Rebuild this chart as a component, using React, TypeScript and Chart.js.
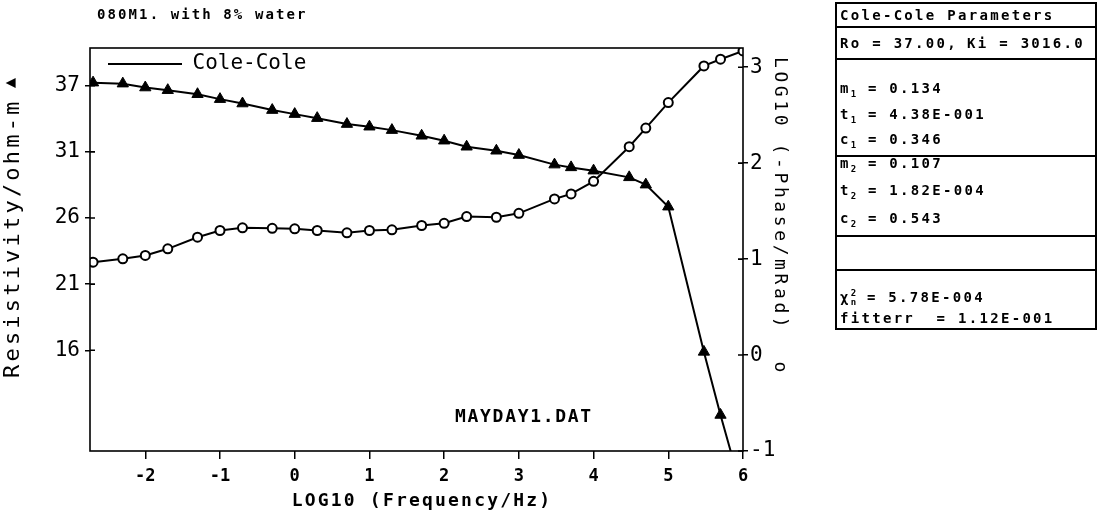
import React, { useEffect, useRef } from 'react';
import { Chart, registerables } from 'chart.js';

Chart.register(...registerables);

// ---------- data ----------
const LOG_FREQ = [
  -2.699, -2.301, -2, -1.699, -1.301, -1, -0.699, -0.301, 0, 0.301, 0.699, 1, 1.301, 1.699,
  2, 2.301, 2.699, 3, 3.477, 3.699, 4, 4.477, 4.699, 5, 5.477, 5.699, 6,
];
const RESISTIVITY = [
  37.25, 37.17, 36.86, 36.65, 36.33, 35.94, 35.59, 35.07, 34.75, 34.43, 33.96, 33.75, 33.48, 33.03,
  32.64, 32.16, 31.84, 31.5, 30.74, 30.52, 30.26, 29.73, 29.15, 27.4, 15.87, 10.86, 4.5,
];
const LOG_PHASE = [
  0.968, 1.003, 1.038, 1.107, 1.228, 1.298, 1.326, 1.321, 1.315, 1.298, 1.274, 1.298, 1.305, 1.35,
  1.373, 1.443, 1.436, 1.477, 1.627, 1.679, 1.81, 2.171, 2.365, 2.631, 3.013, 3.083, 3.169,
];

const X_TICKS = [-2, -1, 0, 1, 2, 3, 4, 5, 6];
const RES_TICKS = [16, 21.25, 26.5, 31.75, 37];
const RES_TICK_LABELS = ['16', '21', '26', '31', '37'];
const PHASE_TICKS = [-1, 0, 1, 2, 3];

const CHART_TITLE = '080M1. with 8% water';
const X_TITLE = 'LOG10 (Frequency/Hz)';
const Y_TITLE = 'Resistivity/ohm-m';
const Y2_TITLE = 'LOG10 (-Phase/mRad)';
const FILE_LABEL = 'MAYDAY1.DAT';
const LEGEND_LABEL = 'Cole-Cole';

// ---------- layout ----------
const W = 1103;
const H = 512;
const PLOT_LEFT = 90;
const PLOT_RIGHT = 743;
const PLOT_TOP = 48;
const PLOT_BOTTOM = 451;
const MONO = "'DejaVu Sans Mono', 'Liberation Mono', monospace";

function drawText(
  ctx: CanvasRenderingContext2D,
  str: string,
  x: number,
  y: number,
  font: string,
  spacing: number,
  align: CanvasTextAlign,
  baseline: CanvasTextBaseline,
  rotation = 0,
) {
  ctx.save();
  ctx.translate(x, y);
  if (rotation) ctx.rotate(rotation);
  ctx.font = font;
  (ctx as any).letterSpacing = `${spacing}px`;
  ctx.textAlign = align;
  ctx.textBaseline = baseline;
  ctx.fillStyle = '#000';
  ctx.fillText(str, 0, 0);
  ctx.restore();
}

const decorPlugin = {
  id: 'decor',
  beforeDraw(chart: any) {
    const lg = chart.legend;
    if (lg) {
      lg.left = PLOT_LEFT;
      lg.right = PLOT_RIGHT;
      lg.top = PLOT_TOP - 12.5;
      lg.bottom = PLOT_BOTTOM;
    }
  },
  afterDraw(chart: any) {
    const { ctx, chartArea: a } = chart;
    ctx.save();
    ctx.strokeStyle = '#000';
    ctx.lineWidth = 1.6;
    ctx.strokeRect(a.left, a.top, a.right - a.left, a.bottom - a.top);
    const yl = chart.scales.y;
    const yr = chart.scales.y2;
    ctx.beginPath();
    yl.ticks.forEach((t: any) => {
      const p = yl.getPixelForValue(t.value);
      ctx.moveTo(a.left, p);
      ctx.lineTo(a.left + 5, p);
    });
    yr.ticks.forEach((t: any) => {
      const p = yr.getPixelForValue(t.value);
      ctx.moveTo(a.right - 5, p);
      ctx.lineTo(a.right, p);
    });
    ctx.stroke();
    ctx.restore();

    drawText(ctx, CHART_TITLE, 97, 15, `bold 14px ${MONO}`, 2.1, 'left', 'middle');
    drawText(ctx, X_TITLE, 422, 501.5, `bold 18px ${MONO}`, 2.2, 'center', 'middle');
    drawText(ctx, Y_TITLE, 19, 378, `22px ${MONO}`, 3.2, 'left', 'alphabetic', -Math.PI / 2);
    drawText(ctx, '\u25B2', 11, 83, `13px 'DejaVu Sans'`, 0, 'center', 'middle', -Math.PI / 2);
    drawText(ctx, Y2_TITLE, 775, 57, `18px ${MONO}`, 3.6, 'left', 'alphabetic', Math.PI / 2);
    drawText(ctx, 'o', 780, 367, `18px ${MONO}`, 0, 'center', 'middle', Math.PI / 2);
    drawText(ctx, FILE_LABEL, 455, 417, `bold 18px ${MONO}`, 1.7, 'left', 'middle');
  },
};

const boxText: React.CSSProperties = {
  position: 'absolute',
  left: 840,
  fontFamily: MONO,
  fontWeight: 'bold',
  fontSize: 14,
  letterSpacing: '2.3px',
  lineHeight: '16px',
  color: '#000',
  whiteSpace: 'pre',
};

const sub: React.CSSProperties = { fontSize: 9, position: 'relative', top: 4, letterSpacing: '1px' };

function Line({ y, x = 840, children }: { y: number; x?: number; children: React.ReactNode }) {
  return <div style={{ ...boxText, top: y - 8, left: x }}>{children}</div>;
}

function Sep({ y }: { y: number }) {
  return <div style={{ position: 'absolute', left: 835, top: y - 1, width: 262, height: 2, background: '#000' }} />;
}

export default function App() {
  const canvasRef = useRef<HTMLCanvasElement | null>(null);

  useEffect(() => {
    const canvas = canvasRef.current;
    if (!canvas) return;
    const lastIdx = LOG_FREQ.length - 1;
    const chart = new Chart(canvas, {
      type: 'line',
      data: {
        datasets: [
          {
            label: 'Resistivity',
            data: LOG_FREQ.map((x, i) => ({ x, y: RESISTIVITY[i] })),
            yAxisID: 'y',
            borderColor: '#000',
            borderWidth: 2,
            tension: 0,
            fill: false,
            pointStyle: 'triangle',
            pointRadius: LOG_FREQ.map((_, i) => (i === lastIdx ? 0 : 6.5)),
            pointBackgroundColor: '#000',
            pointBorderColor: '#000',
            pointBorderWidth: 1,
          },
          {
            label: 'Phase',
            data: LOG_FREQ.map((x, i) => ({ x, y: LOG_PHASE[i] })),
            yAxisID: 'y2',
            borderColor: '#000',
            borderWidth: 2,
            tension: 0,
            fill: false,
            pointStyle: 'circle',
            pointRadius: 4.5,
            pointBackgroundColor: '#fff',
            pointBorderColor: '#000',
            pointBorderWidth: 2,
          },
        ],
      } as any,
      options: {
        animation: false,
        responsive: false,
        layout: { padding: { top: PLOT_TOP, left: 0, right: 0, bottom: 0 } },
        plugins: {
          legend: {
            position: 'chartArea',
            align: 'start',
            onClick: () => {},
            labels: {
              color: '#000',
              font: { family: MONO, size: 21 },
              boxWidth: 74,
              boxHeight: 2,
              padding: 18,
              generateLabels: () => [
                {
                  text: LEGEND_LABEL,
                  fillStyle: '#000',
                  strokeStyle: '#000',
                  lineWidth: 0,
                  hidden: false,
                  datasetIndex: 0,
                },
              ],
            },
          },
          tooltip: { enabled: false },
          title: { display: false },
        },
        scales: {
          x: {
            type: 'linear',
            position: 'bottom',
            min: -2.74,
            max: 6,
            afterBuildTicks: (s: any) => {
              s.ticks = X_TICKS.map((v) => ({ value: v }));
            },
            afterFit: (s: any) => {
              s.height = H - PLOT_BOTTOM;
            },
            grid: { drawOnChartArea: false, drawTicks: true, tickLength: 8, color: '#000', lineWidth: 1.5 },
            border: { display: false },
            ticks: {
              autoSkip: false,
              maxRotation: 0,
              padding: 7,
              color: '#000',
              font: { family: MONO, size: 17, weight: 'bold' },
              callback: (v: any) => String(v),
            },
          },
          y: {
            type: 'linear',
            position: 'left',
            min: 8,
            max: 40,
            afterBuildTicks: (s: any) => {
              s.ticks = RES_TICKS.map((v) => ({ value: v }));
            },
            afterFit: (s: any) => {
              s.width = PLOT_LEFT;
            },
            grid: { drawOnChartArea: false, drawTicks: true, tickLength: 5, color: '#000', lineWidth: 1.5 },
            border: { display: false },
            ticks: {
              padding: 5,
              color: '#000',
              font: { family: MONO, size: 21 },
              callback: (_v: any, i: number) => RES_TICK_LABELS[i],
            },
          },
          y2: {
            type: 'linear',
            position: 'right',
            min: -1,
            max: 3.2,
            afterBuildTicks: (s: any) => {
              s.ticks = PHASE_TICKS.map((v) => ({ value: v }));
            },
            afterFit: (s: any) => {
              s.width = W - PLOT_RIGHT;
            },
            grid: { drawOnChartArea: false, drawTicks: true, tickLength: 5, color: '#000', lineWidth: 1.5 },
            border: { display: false },
            ticks: {
              padding: 2,
              color: '#000',
              font: { family: MONO, size: 21 },
              callback: (v: any) => String(v),
            },
          },
        },
      } as any,
      plugins: [decorPlugin as any],
    });
    return () => chart.destroy();
  }, []);

  return (
    <div style={{ position: 'fixed', left: 0, top: 0, width: W, height: H, background: '#fff', overflow: 'hidden' }}>
      <canvas ref={canvasRef} width={W} height={H} style={{ display: 'block', width: W, height: H }} />
      <div
        style={{
          position: 'absolute',
          left: 835,
          top: 2,
          width: 262,
          height: 328,
          border: '2px solid #000',
          boxSizing: 'border-box',
        }}
      />
      <Sep y={27} />
      <Sep y={59} />
      <Sep y={156} />
      <Sep y={236} />
      <Sep y={270} />
      <Line y={15}>Cole-Cole Parameters</Line>
      <Line y={43}>Ro = 37.00,</Line>
      <Line y={43} x={967}>Ki = 3016.0</Line>
      <Line y={88}>
        m<span style={sub}>1</span> = 0.134
      </Line>
      <Line y={114}>
        t<span style={sub}>1</span> = 4.38E-001
      </Line>
      <Line y={139}>
        c<span style={sub}>1</span> = 0.346
      </Line>
      <Line y={163}>
        m<span style={sub}>2</span> = 0.107
      </Line>
      <Line y={190}>
        t<span style={sub}>2</span> = 1.82E-004
      </Line>
      <Line y={218}>
        c<span style={sub}>2</span> = 0.543
      </Line>
      <Line y={297}>
        {'\u03C7'}
        <span
          style={{
            display: 'inline-block',
            verticalAlign: 'middle',
            fontSize: 9,
            lineHeight: '9px',
            textAlign: 'center',
            letterSpacing: 0,
          }}
        >
          2
          <br />n
        </span>{' '}
        = 5.78E-004
      </Line>
      <Line y={318}>fitterr  = 1.12E-001</Line>
    </div>
  );
}
